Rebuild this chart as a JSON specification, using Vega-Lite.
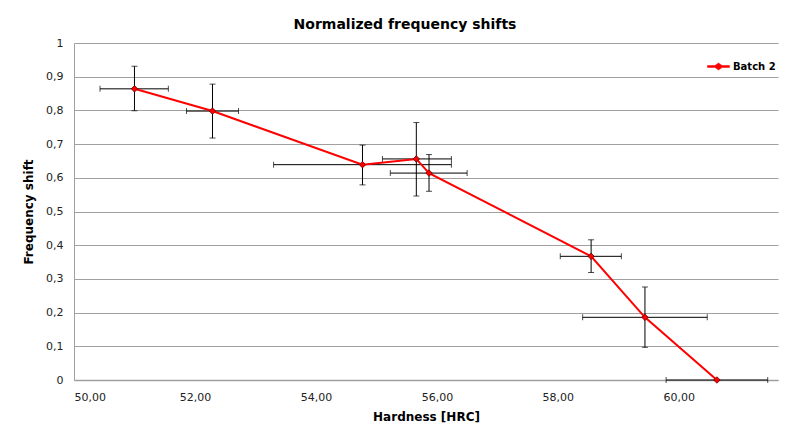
{
  "$schema": "https://vega.github.io/schema/vega-lite/v6.json",
  "width": 704,
  "height": 337,
  "autosize": {"type": "none"},
  "padding": {"left": 74, "top": 43, "right": 10, "bottom": 50},
  "background": "white",
  "title": {"text": "Normalized frequency shifts", "fontSize": 14, "font": "DejaVu Sans", "fontWeight": "bold", "color": "#000000", "anchor": "middle", "dx": -21, "offset": 5},
  "config": {
    "locale": {"number": {"decimal": ",", "thousands": ".", "grouping": [3], "currency": ["", " €"]}},
    "view": {"stroke": null},
    "font": "DejaVu Sans"
  },
  "data": {
    "values": [
      {"hardness": 51.00, "shift": 0.864, "hlo": 50.43, "hhi": 51.56, "slo": 0.799, "shi": 0.931},
      {"hardness": 52.29, "shift": 0.798, "hlo": 51.86, "hhi": 52.72, "slo": 0.718, "shi": 0.878},
      {"hardness": 54.77, "shift": 0.639, "hlo": 53.30, "hhi": 56.24, "slo": 0.579, "shi": 0.697},
      {"hardness": 55.66, "shift": 0.656, "hlo": 55.10, "hhi": 56.24, "slo": 0.546, "shi": 0.764},
      {"hardness": 55.87, "shift": 0.614, "hlo": 55.23, "hhi": 56.50, "slo": 0.560, "shi": 0.669},
      {"hardness": 58.55, "shift": 0.367, "hlo": 58.04, "hhi": 59.05, "slo": 0.319, "shi": 0.416},
      {"hardness": 59.44, "shift": 0.186, "hlo": 58.41, "hhi": 60.47, "slo": 0.097, "shi": 0.276},
      {"hardness": 60.63, "shift": 0.000, "hlo": 59.79, "hhi": 61.47, "slo": 0.000, "shi": 0.000}
    ]
  },
  "encoding": {
    "x": {
      "field": "hardness", "type": "quantitative",
      "scale": {"domain": [50, 61.64], "nice": false, "zero": false},
      "axis": {"title": "Hardness [HRC]", "values": [50, 52, 54, 56, 58, 60], "format": ".2f", "grid": false, "ticks": false, "domainColor": "#a0a0a0", "domainWidth": 1.5, "labelFontSize": 11, "labelColor": "#222222", "labelPadding": 11, "titleFontSize": 12, "titleFontWeight": "bold", "titleColor": "#000000", "titlePadding": 9}
    },
    "y": {
      "field": "shift", "type": "quantitative",
      "scale": {"domain": [0, 1], "nice": false},
      "axis": {"title": "Frequency shift", "values": [0, 0.1, 0.2, 0.3, 0.4, 0.5, 0.6, 0.7, 0.8, 0.9, 1], "format": ".1~f", "grid": true, "gridColor": "#a0a0a0", "gridWidth": 1, "ticks": false, "domainColor": "#a0a0a0", "labelFontSize": 11, "labelColor": "#222222", "labelPadding": 11, "titleFontSize": 12, "titleFontWeight": "bold", "titleColor": "#000000", "titlePadding": 10}
    }
  },
  "layer": [
    {
      "mark": {"type": "errorbar", "color": "#000000", "thickness": 1, "ticks": {"size": 6, "color": "#000000"}},
      "encoding": {
        "x": {"field": "hlo", "type": "quantitative"},
        "x2": {"field": "hhi"},
        "y": {"field": "shift", "type": "quantitative"}
      }
    },
    {
      "mark": {"type": "errorbar", "color": "#000000", "thickness": 1, "ticks": {"size": 6, "color": "#000000"}},
      "encoding": {
        "y": {"field": "slo", "type": "quantitative"},
        "y2": {"field": "shi"},
        "x": {"field": "hardness", "type": "quantitative"}
      }
    },
    {
      "mark": {"type": "line", "color": "#ff0000", "strokeWidth": 2},
      "encoding": {}
    },
    {
      "mark": {"type": "point", "shape": "diamond", "filled": true, "size": 42, "stroke": "#600000", "strokeWidth": 0.8, "opacity": 1},
      "encoding": {
        "color": {
          "datum": "Batch 2",
          "scale": {"range": ["#ff0000"]},
          "legend": {"title": null, "orient": "none", "legendX": 633, "legendY": 12, "symbolType": "M-1,-0.09L-0.32,-0.09L0,-0.32L0.32,-0.09L1,-0.09L1,0.09L0.32,0.09L0,0.32L-0.32,0.09L-1,0.09Z", "symbolSize": 484, "symbolFillColor": "#ff0000", "symbolStrokeColor": "#ff0000", "symbolStrokeWidth": 0.5, "symbolOpacity": 1, "labelFontSize": 10, "labelFontWeight": "bold", "labelColor": "#000000", "labelOffset": 3}
        }
      }
    }
  ]
}
